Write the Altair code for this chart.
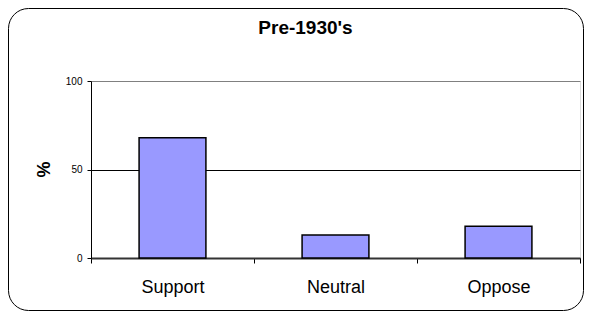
import altair as alt
import pandas as pd

categories = ["Support", "Neutral", "Oppose"]
values = [68, 13, 18]
y_ticks = [0, 50, 100]
title_text = "Pre-1930's"

df = pd.DataFrame({"category": categories, "value": values})

FONT = "Liberation Sans"
W, H = 489, 177

bars = alt.Chart(df).mark_bar(
    width=alt.RelativeBandSize(0.41),
    color="#9999FF",
    stroke="black",
    strokeWidth=1.5,
).encode(
    x=alt.X(
        "category:N",
        sort=categories,
        scale=alt.Scale(paddingInner=0, paddingOuter=0),
        axis=alt.Axis(
            title=None,
            labelAngle=0,
            labelFontSize=18,
            labelFont=FONT,
            labelColor="black",
            labelPadding=15,
            tickBand="extent",
            tickSize=5,
            tickColor="black",
            domainColor="#333333",
            domainWidth=2,
            grid=False,
        ),
    ),
    y=alt.Y(
        "value:Q",
        scale=alt.Scale(domain=[0, 100], nice=False),
        axis=alt.Axis(
            title="%",
            values=y_ticks,
            labelFontSize=10,
            labelFont=FONT,
            labelColor="black",
            labelPadding=5,
            tickSize=4,
            tickColor="black",
            domainColor="black",
            domainWidth=1,
            grid=True,
            gridColor={"condition": {"test": "datum.value === 100", "value": "#808080"}, "value": "black"},
            gridWidth=1,
            titleFont=FONT,
            titleFontSize=18,
            titleFontWeight="bold",
            titleColor="black",
            titleAngle=-90,
            titleX=-47,
            titleY=88,
            titleAlign="center",
            titleBaseline="middle",
        ),
    ),
)

one = pd.DataFrame({"f": [0]})

frame = alt.Chart(one).mark_rect(
    fill="transparent",
    stroke="black",
    strokeWidth=1,
    cornerRadius=20,
).encode(
    x=alt.value(-82.5),
    x2=alt.value(492.5),
    y=alt.value(-72.5),
    y2=alt.value(229.5),
)

title = alt.Chart(one).mark_text(
    font=FONT,
    fontSize=19,
    fontWeight="bold",
    color="black",
    align="center",
    baseline="alphabetic",
).encode(
    x=alt.value(214.5),
    y=alt.value(-47.3),
    text=alt.value(title_text),
)

chart = alt.layer(bars, frame, title).properties(
    width=W,
    height=H,
    autosize=alt.AutoSizeParams(type="none"),
    padding={"left": 83, "top": 73, "right": 576 - 83 - W, "bottom": 53},
).configure_view(
    stroke="#808080",
    strokeWidth=1.5,
).configure(background="white")

chart.save("out.html", embed_options={"renderer": "svg", "actions": False})
